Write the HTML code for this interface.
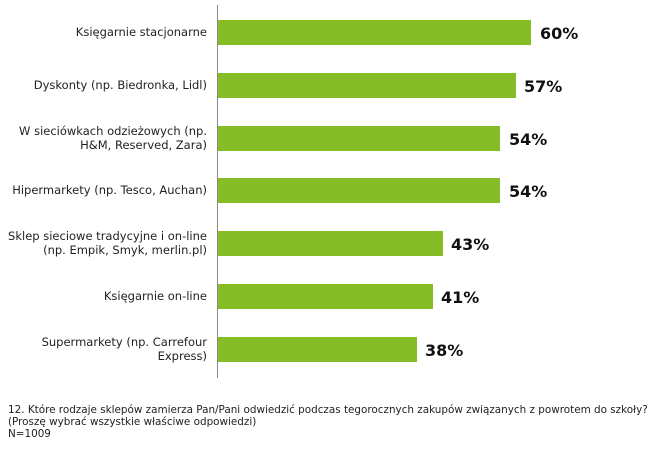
<!DOCTYPE html>
<html><head><meta charset="utf-8"><style>
body{margin:0;width:655px;height:452px;background:#fff;position:relative;overflow:hidden;font-family:"DejaVu Sans","Liberation Sans",sans-serif;color:#222}
.ax{position:absolute;left:217px;top:5px;width:1px;height:373px;background:#888}
.bar{position:absolute;left:218px;height:25px;background:#86bc25}
.lab{position:absolute;right:448px;font-size:11.5px;text-align:right;line-height:14px;white-space:nowrap}
.val{position:absolute;font-weight:bold;font-size:16px;line-height:25px;color:#111}
.foot{position:absolute;left:8px;top:404px;font-size:10.4px;line-height:12px;white-space:nowrap}
</style></head><body>
<div class="ax"></div>
<div class="bar" style="top:20px;width:313px"></div><div class="val" style="top:21px;left:540px">60%</div>
<div class="lab" style="top:25px">Księgarnie stacjonarne</div>
<div class="bar" style="top:73px;width:298px"></div><div class="val" style="top:74px;left:524px">57%</div>
<div class="lab" style="top:78px">Dyskonty (np. Biedronka, Lidl)</div>
<div class="bar" style="top:126px;width:282px"></div><div class="val" style="top:127px;left:509px">54%</div>
<div class="lab" style="top:124px">W sieciówkach odzieżowych (np.<br>H&amp;M, Reserved, Zara)</div>
<div class="bar" style="top:178px;width:282px"></div><div class="val" style="top:179px;left:509px">54%</div>
<div class="lab" style="top:183px">Hipermarkety (np. Tesco, Auchan)</div>
<div class="bar" style="top:231px;width:225px"></div><div class="val" style="top:232px;left:451px">43%</div>
<div class="lab" style="top:229px">Sklep sieciowe tradycyjne i on-line<br>(np. Empik, Smyk, merlin.pl)</div>
<div class="bar" style="top:284px;width:215px"></div><div class="val" style="top:285px;left:441px">41%</div>
<div class="lab" style="top:289px">Księgarnie on-line</div>
<div class="bar" style="top:337px;width:199px"></div><div class="val" style="top:338px;left:425px">38%</div>
<div class="lab" style="top:335px">Supermarkety (np. Carrefour<br>Express)</div>
<div class="foot">12. Które rodzaje sklepów zamierza Pan/Pani odwiedzić podczas tegorocznych zakupów związanych z powrotem do szkoły?<br>(Proszę wybrać wszystkie właściwe odpowiedzi)<br>N=1009</div>
</body></html>
